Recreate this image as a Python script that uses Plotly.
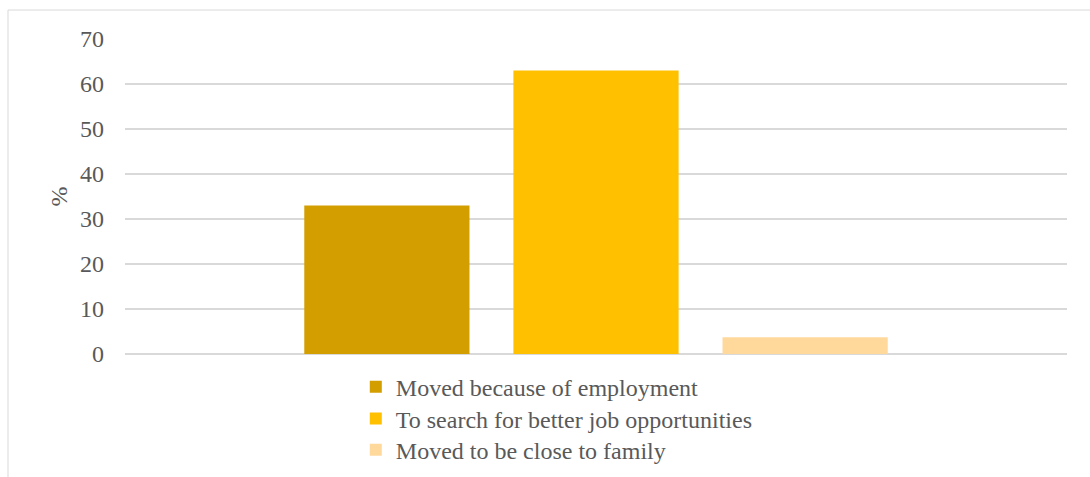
import plotly.graph_objects as go

# Reasons for moving (%)
series_names = [
    "Moved because of employment",
    "To search for better job opportunities",
    "Moved to be close to family",
]
series_values = [33, 63, 3.7]
series_colors = ["#D39E00", "#FFC000", "#FFD89C"]
category = [""]
y_ticks = [0, 10, 20, 30, 40, 50, 60, 70]

FONT = "Times New Roman"
TEXT = "#595959"
SIZE = 24

# one legend per series so the rows can sit closer together
legend_ids = ["legend", "legend2", "legend3"]
legend_rows_y = [-0.105, -0.206, -0.305]

fig = go.Figure()
for name, val, col, lg in zip(series_names, series_values, series_colors, legend_ids):
    fig.add_trace(go.Bar(
        x=category, y=[val], name=name,
        marker=dict(color=col, line=dict(width=0)),
        legend=lg,
    ))

legend_style = dict(
    orientation="v", x=0.245, xanchor="left", yanchor="middle",
    font=dict(family=FONT, size=SIZE, color=TEXT),
    itemwidth=30, bgcolor="rgba(0,0,0,0)",
)

fig.update_layout(
    width=1090, height=477,
    margin=dict(l=125, r=23, t=39, b=123, autoexpand=False),
    paper_bgcolor="white", plot_bgcolor="white",
    barmode="group", bargap=0.334, bargroupgap=0.21,
    font=dict(family=FONT, size=SIZE, color=TEXT),
    showlegend=True,
    legend=dict(legend_style, y=legend_rows_y[0]),
    legend2=dict(legend_style, y=legend_rows_y[1]),
    legend3=dict(legend_style, y=legend_rows_y[2]),
    xaxis=dict(showticklabels=False, showgrid=False, zeroline=False,
               showline=False, ticks=""),
    yaxis=dict(
        range=[0, 70], tickvals=y_ticks, showgrid=True,
        gridcolor="#D9D9D9", gridwidth=1.5, zeroline=True,
        zerolinecolor="#D9D9D9", zerolinewidth=1.5, showline=False,
        ticks="", ticklabelstandoff=20,
        tickfont=dict(family=FONT, size=SIZE, color=TEXT),
        title=dict(text="%", font=dict(family=FONT, size=SIZE, color=TEXT),
                   standoff=5),
    ),
    shapes=[dict(
        type="rect", xref="paper", yref="paper",
        x0=-0.1242, x1=1.2, y0=-0.6, y1=1.092,
        line=dict(color="#D9D9D9", width=1), fillcolor="rgba(0,0,0,0)",
        layer="below",
    )],
)

fig.write_html("out.html")
